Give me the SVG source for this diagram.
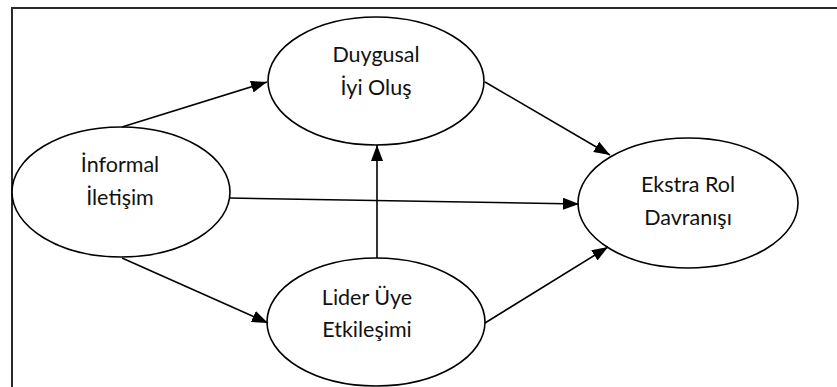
<svg xmlns="http://www.w3.org/2000/svg" width="837" height="387" viewBox="0 0 837 387">
  <style>
    .node ellipse { fill: #ffffff; stroke: #000000; stroke-width: 1.6; }
    .node text { font-family: Lato, "Open Sans", "Liberation Sans", sans-serif; font-size: 21.5px; fill: #111111; text-anchor: middle; }
    .edge { stroke: #000000; stroke-width: 1.6; fill: none; marker-end: url(#arrow); }
    .frame { stroke: #2a2a2a; stroke-width: 2; fill: none; }
  </style>
  <defs>
    <marker id="arrow" viewBox="0 0 16 12" refX="16" refY="6" markerWidth="16" markerHeight="12" markerUnits="userSpaceOnUse" orient="auto">
      <path d="M0,0 L16,6 L0,12 Z" fill="#000000"/>
    </marker>
  </defs>
  <rect width="837" height="387" fill="#ffffff"/>

  <!-- page frame: top and left rule -->
  <path class="frame" d="M12,387 L12,8 L837,8"/>

  <!-- nodes -->
  <g id="informal-iletisim" class="node">
    <ellipse cx="121" cy="192" rx="109" ry="65"/>
    <text x="120" y="172">İnformal</text>
    <text x="120" y="205">İletişim</text>
  </g>
  <g id="duygusal-iyi-olus" class="node">
    <ellipse cx="376" cy="81" rx="108" ry="64"/>
    <text x="376" y="62">Duygusal</text>
    <text x="376" y="95">İyi Oluş</text>
  </g>
  <g id="lider-uye-etkilesimi" class="node">
    <ellipse cx="376" cy="322" rx="109" ry="64"/>
    <text x="367" y="305">Lider Üye</text>
    <text x="367" y="337">Etkileşimi</text>
  </g>
  <g id="ekstra-rol-davranisi" class="node">
    <ellipse cx="688" cy="203" rx="110" ry="65"/>
    <text x="688" y="192">Ekstra Rol</text>
    <text x="688" y="225">Davranışı</text>
  </g>

  <!-- connectors -->
  <g id="connectors">
    <line class="edge" x1="122" y1="127" x2="267" y2="82"/>
    <line class="edge" x1="485" y1="82" x2="610" y2="155"/>
    <line class="edge" x1="229" y1="198" x2="579" y2="204"/>
    <line class="edge" x1="377" y1="258" x2="377" y2="145"/>
    <line class="edge" x1="122" y1="258" x2="268" y2="323"/>
    <line class="edge" x1="485" y1="323" x2="608" y2="247"/>
  </g>
</svg>
